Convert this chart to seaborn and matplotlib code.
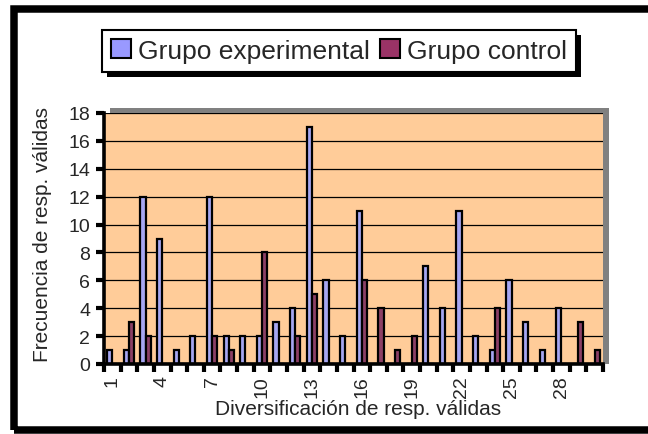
import matplotlib
matplotlib.use("Agg")
import matplotlib.pyplot as plt
import seaborn as sns
import pandas as pd
import numpy as np
from matplotlib.patches import Rectangle, Patch

categories = [str(i) for i in range(1, 31)]
experimental = [1, 1, 12, 9, 1, 2, 12, 2, 2, 2, 3, 4, 17, 6, 2, 11, 0, 0, 0, 7, 4, 11, 2, 1, 6, 3, 1, 4, 0, 0]
control = [0, 3, 2, 0, 0, 0, 2, 1, 0, 8, 0, 2, 5, 0, 0, 6, 4, 1, 2, 0, 0, 0, 0, 4, 0, 0, 0, 0, 3, 1]
series_names = ["Grupo experimental", "Grupo control"]
colors = ["#9999FF", "#993366"]
yticks = list(range(0, 19, 2))

df = pd.DataFrame({
    "cat": categories * 2,
    "val": experimental + control,
    "grupo": [series_names[0]] * len(categories) + [series_names[1]] * len(categories),
})

sns.set_theme(style="white")
plt.rcParams["font.family"] = ["Liberation Sans", "DejaVu Sans"]

W, H = 648, 435
fig = plt.figure(figsize=(W / 100, H / 100), dpi=100)
fig.patch.set_facecolor("white")

L, R, T, B = 104, 603, 114, 365
ax = fig.add_axes([L / W, 1 - B / H, (R - L) / W, (B - T) / H])

# grey shadow of plot area (top/right)
fig.patches.append(Rectangle(((L + 6) / W, 1 - B / H), (R - L) / W, (B - T + 5) / H,
                             transform=fig.transFigure, facecolor="#808080",
                             edgecolor="none", zorder=0))
ax.set_zorder(1)
ax.set_facecolor("#FFCC99")

sns.barplot(data=df, x="cat", y="val", hue="grupo", order=categories,
            hue_order=series_names, palette=colors, width=0.62,
            edgecolor="black", linewidth=1.6, ax=ax, legend=False, zorder=3)

ax.set_xlim(-0.5, len(categories) - 0.5)
ax.set_ylim(0, 18)
ax.set_yticks(yticks)
ax.set_yticklabels([str(v) for v in yticks], fontsize=14)
ax.yaxis.grid(True, color="black", linewidth=0.9)
ax.set_axisbelow(True)

ax.set_xticks(range(0, len(categories), 3))
ax.set_xticklabels(categories[::3], rotation=90, fontsize=14)
ax.set_xticks(np.arange(-0.5, len(categories), 1), minor=True)
ax.tick_params(axis="x", which="major", length=0, pad=8)
ax.tick_params(axis="x", which="minor", length=6, width=3, color="black", direction="out", bottom=True)
ax.tick_params(axis="y", which="major", length=6, width=3, color="black", direction="out", left=True, pad=4)

for s in ["top", "right"]:
    ax.spines[s].set_visible(False)
for s in ["left", "bottom"]:
    ax.spines[s].set_color("black")
    ax.spines[s].set_linewidth(2.6)
    ax.spines[s].set_zorder(5)

ax.set_xlabel("")
ax.set_ylabel("")
fig.text(358 / W, 1 - 410 / H, "Diversificación de resp. válidas", ha="center", va="center", fontsize=15)
fig.text(43 / W, 1 - 235 / H, "Frecuencia de resp. válidas", ha="center", va="center",
         rotation=90, fontsize=15)

handles = [Patch(facecolor=c, edgecolor="black", linewidth=1.5) for c in colors]
leg = fig.legend(handles, series_names, loc="center", bbox_to_anchor=(339 / W, 1 - 52 / H),
                 ncol=2, fontsize=19, frameon=True, fancybox=False, framealpha=1,
                 edgecolor="black", handlelength=0.75, handleheight=0.75,
                 handletextpad=0.25, columnspacing=0.4, borderpad=0.35, borderaxespad=0)
leg.get_frame().set_linewidth(1.5)
leg.set_zorder(10)

fig.canvas.draw()
bb = leg.get_window_extent()
fig.patches.append(Rectangle(((bb.x0 + 5) / W, (bb.y0 - 5) / H), bb.width / W, bb.height / H,
                             transform=fig.transFigure, facecolor="black",
                             edgecolor="none", zorder=9))

# outer frame (right edge clipped)
x0, y_top, y_bot = 13.5, 10, 431
fig.patches.append(Rectangle((x0 / W, (H - y_bot) / H), (W + 20 - x0) / W, (y_bot - y_top) / H,
                             transform=fig.transFigure, facecolor="none",
                             edgecolor="black", linewidth=5.4, zorder=20))

fig.savefig("out.png", dpi=100)
